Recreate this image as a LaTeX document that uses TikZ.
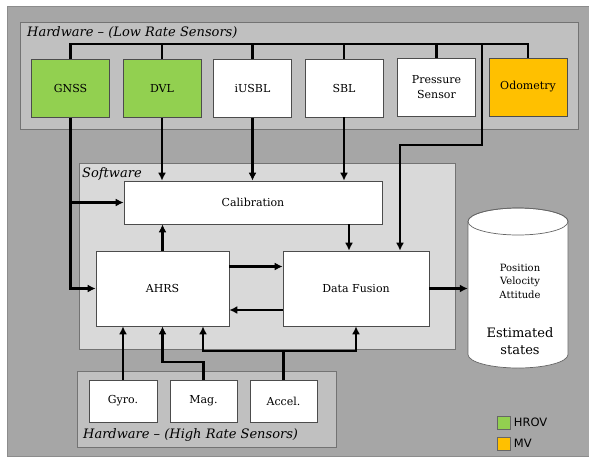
\documentclass[tikz,border=0pt]{standalone}
\usepackage{fontspec}
\setmainfont{DejaVu Serif}
\newfontfamily\legendfont{DejaVu Sans}
\usetikzlibrary{arrows.meta,positioning,shapes.geometric}
\definecolor{bgout}{HTML}{A6A6A6}
\definecolor{hwgray}{HTML}{C0C0C0}
\definecolor{swgray}{HTML}{D9D9D9}
\definecolor{hrov}{HTML}{92D050}
\definecolor{mv}{HTML}{FFC000}

\begin{document}
\begin{tikzpicture}[x=1pt,y=-1pt,
  sensor/.style={draw=black!70,line width=0.6pt,fill=white,minimum width=78pt,minimum height=58pt,inner sep=1pt,align=center,font=\fontsize{11}{15}\selectfont},
  block/.style={draw=black!70,line width=0.6pt,fill=white,inner sep=1pt,font=\fontsize{11}{13}\selectfont},
  group/.style={draw=black!55,line width=0.7pt},
  wire/.style={line width=2.3pt},
  link/.style={wire,-{Latex[length=8pt,width=8pt]}},
  tag/.style={font=\itshape\fontsize{13}{15}\selectfont,anchor=west,inner sep=0pt},
  key/.style={draw=black!60,minimum size=13pt,inner sep=0pt}]

\useasboundingbox (0,0) rectangle (589,456);
\draw[black!45,fill=bgout] (7,6) rectangle (589,456);
\draw[group,fill=hwgray] (20,22) rectangle (578,129);
\draw[group,fill=swgray] (79,163) rectangle (455,349);
\draw[group,fill=hwgray] (77,371) rectangle (336,447);

\node[tag] (lowtag) at (27,33) {Hardware -- (Low Rate Sensors)};
\node[tag] (swtag) at (82,174) {Software};
\node[tag] (hightag) at (83,435) {Hardware -- (High Rate Sensors)};

\node[sensor,fill=hrov] (gnss) at (70.5,88.5) {GNSS};
\node[sensor,fill=hrov] (dvl) at (162,88.5) {DVL};
\node[sensor] (iusbl) at (252.5,88.5) {iUSBL};
\node[sensor] (sbl) at (344,88) {SBL};
\node[sensor] (press) at (436.5,87) {Pressure\\Sensor};
\node[sensor,fill=mv] (odo) at (528,87) {Odometry};

\node[block,minimum width=258pt,minimum height=43pt] (calib) at (253,202.5) {Calibration};
\node[block,minimum width=133pt,minimum height=75pt] (ahrs) at (162.5,288.5) {AHRS};
\node[block,minimum width=146pt,minimum height=75pt] (fusion) at (356,288.5) {Data Fusion};

\node[block,minimum width=68pt,minimum height=42pt] (gyro) at (123,401) {Gyro.};
\node[block,minimum width=67pt,minimum height=42pt] (mag) at (203.5,401) {Mag.};
\node[block,minimum width=67pt,minimum height=42pt] (accel) at (283.5,401) {Accel.};

\node[minimum width=100pt,minimum height=160pt] (states) at (518,288) {};
\draw[black!60,line width=0.7pt,fill=white] (468,221.5) -- (468,354.5)
  arc[start angle=180,end angle=360,x radius=50pt,y radius=13.5pt] -- (568,221.5)
  arc[start angle=0,end angle=180,x radius=50pt,y radius=13.5pt] -- cycle;
\draw[black!60,line width=0.7pt] (518,221.5) ellipse[x radius=50pt,y radius=13.5pt];
\node[font=\fontsize{10}{13.5}\selectfont,align=center] (pva) at (520,281) {Position\\Velocity\\Attitude};
\node[font=\fontsize{13}{17}\selectfont,align=center] (est) at (520,341) {Estimated\\states};

\coordinate (busL) at (70.5,44);
\coordinate (busR) at (528,44);
\draw[wire] (gnss.north) -- (busL) -- (busR) -- (odo.north);
\foreach \s in {dvl,iusbl,sbl,press}
  \draw[wire] (\s.north) -- (\s.north |- busL);
\draw[link] (482,44) -- (482,145) -| ([xshift=44pt]fusion.north);

\draw[link] (gnss.south) |- (ahrs.west);
\draw[link] (gnss.south |- calib.west) -- (calib.west);
\draw[link] (dvl.south) -- (dvl.south |- calib.north);
\draw[link] (iusbl.south) -- (iusbl.south |- calib.north);
\draw[link] (sbl.south) -- (sbl.south |- calib.north);
\draw[link] (ahrs.north) -- (ahrs.north |- calib.south);
\draw[link] ([xshift=-7pt]fusion.north |- calib.south) -- ([xshift=-7pt]fusion.north);
\draw[link] ([yshift=22pt]ahrs.east) -- ([yshift=22pt]ahrs.east -| fusion.west);
\draw[link] ([yshift=-21.5pt]fusion.west) -- ([yshift=-21.5pt]fusion.west -| ahrs.east);
\draw[link] (fusion.east) -- (fusion.east -| states.west);

\draw[link] (gyro.north) -- (gyro.north |- ahrs.south);
\draw[link] (mag.north) -- ++(0,-18) -| (ahrs.south);
\draw[wire] (accel.north) -- ++(0,-29) coordinate (accbus);
\draw[link] (accbus) -| ([xshift=40.5pt]ahrs.south);
\draw[link] (accbus) -| (fusion.south);

\node[key,fill=hrov] (keyA) at (504,422.5) {};
\node[key,fill=mv] (keyB) at (504,443.5) {};
\node[right=3pt of keyA,inner sep=0pt,font=\legendfont\fontsize{11.5}{13}\selectfont] (keyAtext) {HROV};
\node[right=3pt of keyB,inner sep=0pt,font=\legendfont\fontsize{11.5}{13}\selectfont] (keyBtext) {MV};
\end{tikzpicture}
\end{document}
